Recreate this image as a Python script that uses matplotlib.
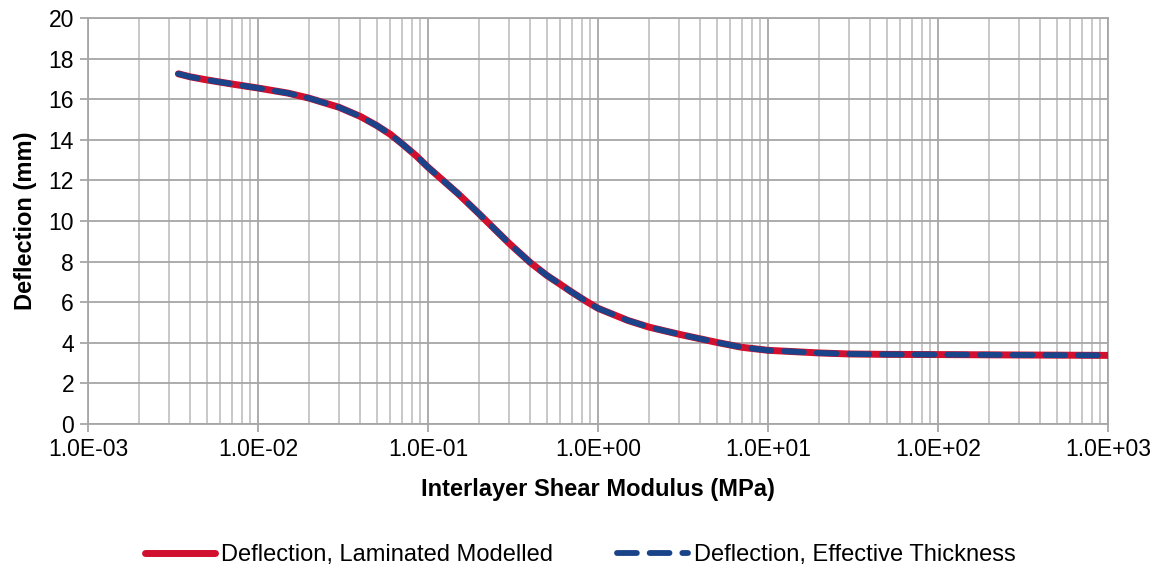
import matplotlib.pyplot as plt
from matplotlib.ticker import FixedLocator, LogLocator, NullFormatter, FuncFormatter
import numpy as np

plt.rcParams['font.family'] = ['Liberation Sans', 'DejaVu Sans']

# shear modulus (MPa) and deflection (mm)
modulus = [0.0034, 0.004, 0.005, 0.007, 0.01, 0.015, 0.02, 0.03, 0.04, 0.05,
           0.06, 0.07, 0.085, 0.1, 0.15, 0.2, 0.25, 0.3, 0.4, 0.5, 0.6, 0.7,
           0.85, 1.0, 1.5, 2.0, 3.0, 5.0, 7.0, 10.0, 20.0, 30.0, 50.0, 100.0,
           300.0, 1000.0]
defl_laminated = [17.25, 17.1, 16.95, 16.75, 16.55, 16.3, 16.05, 15.6, 15.15, 14.7,
                  14.27, 13.82, 13.22, 12.65, 11.35, 10.35, 9.55, 8.9, 7.95, 7.32, 6.88, 6.5,
                  6.05, 5.7, 5.1, 4.77, 4.42, 4.02, 3.78, 3.63, 3.5, 3.45, 3.43, 3.42,
                  3.4, 3.38]
defl_effective = list(defl_laminated)

labels = ['Deflection, Laminated Modelled', 'Deflection, Effective Thickness']

fig = plt.figure(figsize=(11.6, 5.68), dpi=100)
ax = fig.add_axes([88/1160, 1 - 424/568, 1020/1160, 406/568])

ax.plot(modulus, defl_laminated, color='#D0102E', lw=5, solid_capstyle='round',
        solid_joinstyle='round', label=labels[0], zorder=3)
ax.plot(modulus, defl_effective, color='#1B4389', lw=4.2, ls=(0, (3.4, 2.2)),
        dash_capstyle='round', dash_joinstyle='round', label=labels[1], zorder=4)

ax.set_xscale('log')
ax.set_xlim(1e-3, 1e3)
ax.set_ylim(0, 20)
ax.set_yticks(np.arange(0, 21, 2))
ax.xaxis.set_major_locator(FixedLocator([10.0**k for k in range(-3, 4)]))
ax.xaxis.set_major_formatter(FuncFormatter(lambda v, p: f'{v:.1E}'))
ax.xaxis.set_minor_locator(LogLocator(base=10, subs=np.arange(2, 10), numticks=20))
ax.xaxis.set_minor_formatter(NullFormatter())

ax.grid(which='major', color='#A6A6A6', lw=1.3)
ax.grid(which='minor', axis='x', color='#C4C4C4', lw=1.3)
ax.set_axisbelow(True)
for s in ax.spines.values():
    s.set_color('#A6A6A6')
    s.set_linewidth(1.3)
ax.tick_params(which='major', color='#A6A6A6', length=6, width=1.3, labelsize=16.5, pad=4)
ax.tick_params(which='minor', length=0)

ax.set_xlabel('Interlayer Shear Modulus (MPa)', fontsize=17, fontweight='bold', labelpad=12)
ax.set_ylabel('Deflection (mm)', fontsize=17, fontweight='bold', labelpad=8)

fig.legend(loc='center', bbox_to_anchor=(580/1160, 1 - 555/568), ncol=2, frameon=False,
           fontsize=17, handlelength=3.0, columnspacing=2.7, handletextpad=0.25)

fig.savefig('out.png', dpi=100)
